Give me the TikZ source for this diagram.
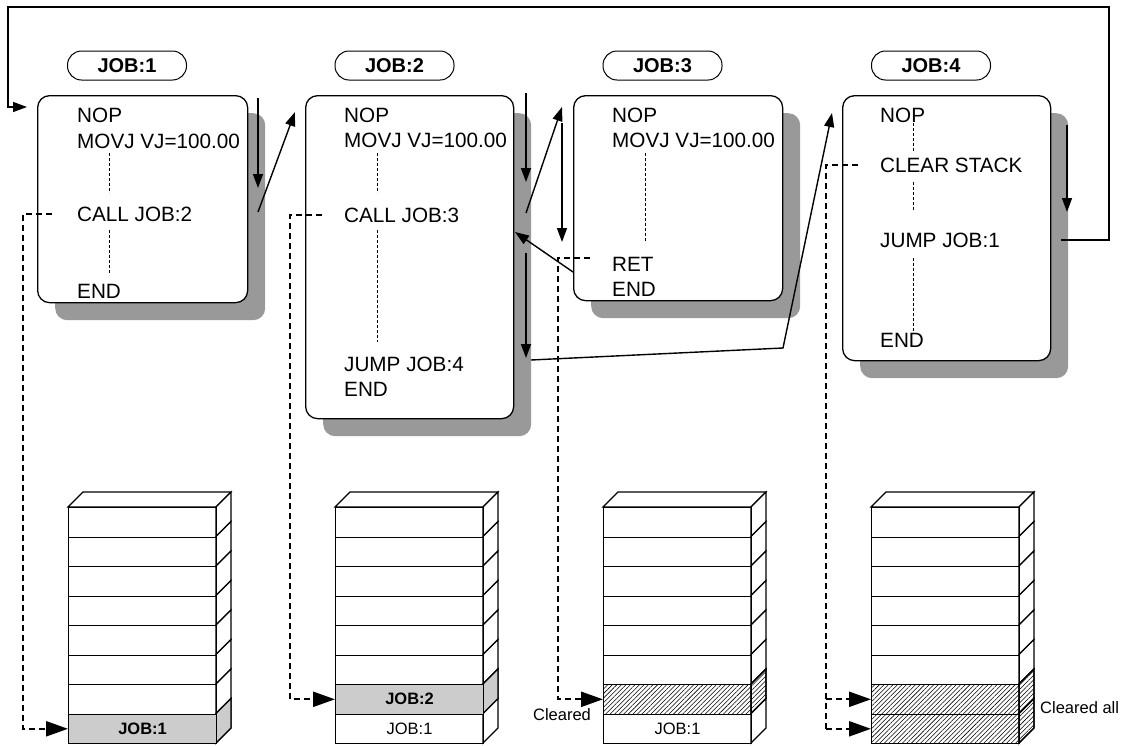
\documentclass[tikz,border=0pt]{standalone}
\usepackage{fontspec}
\setmainfont{Liberation Sans}
\usetikzlibrary{arrows.meta,patterns.meta,calc}
\begin{document}
\begin{tikzpicture}[x=1pt,y=-1pt,
  jobbox/.style={draw, line width=1.3pt, rounded corners=12pt, fill=white, anchor=north west, inner sep=0pt},
  shadowbox/.style={fill=black!40, rounded corners=12pt, anchor=north west, inner sep=0pt},
  pill/.style={draw, line width=1pt, rounded corners=14pt, minimum width=119pt, minimum height=29pt, inner sep=0pt, font=\fontsize{20}{24}\selectfont\bfseries},
  code/.style={anchor=west, inner sep=0pt, text height=15pt, text depth=0pt, font=\fontsize{20.7}{24}\selectfont},
  dotline/.style={dash pattern=on 3pt off 2pt, line width=1pt},
  flow/.style={line width=1.4pt, -{Triangle[length=14pt,width=10pt]}},
  stackarrow/.style={line width=2.3pt, dash pattern=on 6pt off 4pt, -{Triangle[length=22pt,width=15pt]}},
  stackline/.style={line width=2.3pt, dash pattern=on 6pt off 4pt},
  cell/.style={draw, line width=1.1pt, minimum width=148pt, minimum height=29.5pt, inner sep=0pt, anchor=north west, font=\fontsize{16.5}{18}\selectfont},
  hatch/.style={pattern={Lines[angle=45,distance=3.2pt,line width=0.55pt]}},
  note/.style={inner sep=0pt, font=\fontsize{16.5}{18}\selectfont}
]
\useasboundingbox (0,0) rectangle (1127,745);

% ---------- shadows ----------
\node[shadowbox, minimum width=210pt, minimum height=207pt] (J1s) at (55,113) {};
\node[shadowbox, minimum width=208pt, minimum height=323pt] (J2s) at (323,113) {};
\node[shadowbox, minimum width=209pt, minimum height=205pt] (J3s) at (591,113) {};
\node[shadowbox, minimum width=208pt, minimum height=265pt] (J4s) at (860,113) {};

% ---------- job boxes ----------
\node[jobbox, minimum width=210pt, minimum height=207pt] (J1) at (37,95) {};
\node[jobbox, minimum width=208pt, minimum height=323pt] (J2) at (305,95) {};
\node[jobbox, minimum width=209pt, minimum height=205pt] (J3) at (573,95) {};
\node[jobbox, minimum width=208pt, minimum height=265pt] (J4) at (842,95) {};

% ---------- labels ----------
\node[pill] (P1) at (127,65.5) {JOB:1};
\node[pill] (P2) at (394.5,65.5) {JOB:2};
\node[pill] (P3) at (662.5,65.5) {JOB:3};
\node[pill] (P4) at (931,65.5) {JOB:4};

% ---------- code text ----------
\node[code] (t1a) at (77,115) {NOP};
\node[code] (t1b) at (77,141) {MOVJ VJ=100.00};
\node[code] (t1c) at (77,214) {CALL JOB:2};
\node[code] (t1d) at (77,291) {END};

\node[code] (t2a) at (344,115) {NOP};
\node[code] (t2b) at (344,140) {MOVJ VJ=100.00};
\node[code] (t2c) at (344,215) {CALL JOB:3};
\node[code] (t2d) at (344,364) {JUMP JOB:4};
\node[code] (t2e) at (344,389) {END};

\node[code] (t3a) at (612,115) {NOP};
\node[code] (t3b) at (612,140) {MOVJ VJ=100.00};
\node[code] (t3c) at (612,264) {RET};
\node[code] (t3d) at (612,289) {END};

\node[code] (t4a) at (880,115) {NOP};
\node[code] (t4b) at (880,165) {CLEAR STACK};
\node[code] (t4c) at (880,240) {JUMP JOB:1};
\node[code] (t4d) at (880,340) {END};

% ---------- dotted continuation lines ----------
\draw[dotline] (109,153) -- (109,193);
\draw[dotline] (109,230) -- (109,275);
\draw[dotline] (377,153) -- (377,193);
\draw[dotline] (377,230) -- (377,342);
\draw[dotline] (645,153) -- (645,242);
\draw[dotline] (913,123) -- (913,152);
\draw[dotline] (913,182) -- (913,210);
\draw[dotline] (913,258) -- (913,333);

% ---------- flow arrows ----------
\coordinate (f1a) at (258,98);  \coordinate (f1b) at (258,188);
\coordinate (f1c) at (258,212); \coordinate (f1d) at (295,112);
\draw[flow] (f1a) -- (f1b);
\draw[flow] (f1c) -- (f1d);

\coordinate (f2a) at (526,93);  \coordinate (f2b) at (526,182);
\coordinate (f2c) at (526,213); \coordinate (f2d) at (562,107);
\coordinate (f2e) at (526,253); \coordinate (f2f) at (526,358);
\draw[flow] (f2a) -- (f2b);
\draw[flow] (f2c) -- (f2d);
\draw[flow] (f2e) -- (f2f);

\coordinate (f3a) at (562,123); \coordinate (f3b) at (562,242);
\draw[flow] (f3a) -- (f3b);
\coordinate (r3) at (573,272); \coordinate (r2) at (515,232);
\draw[flow] (r3) -- (r2);

\coordinate (j4a) at (531,360); \coordinate (j4b) at (783,348); \coordinate (j4c) at (832,113);
\draw[flow] (j4a) -- (j4b) -- (j4c);

\coordinate (f4a) at (1067,125); \coordinate (f4b) at (1067,212);
\draw[flow] (f4a) -- (f4b);

\coordinate (l1) at (1061,240); \coordinate (l2) at (1109,7);
\coordinate (l3) at (8,7); \coordinate (l4) at (8,107); \coordinate (l5) at (27,107);
\draw[flow] (l1) -| (l2) -- (l3) -- (l4) -- (l5);

% ---------- stacks ----------
\foreach \x in {68,335,603,871}{
  \draw[line width=1.1pt, fill=white] (\x,507) -- (\x+15,492) -- (\x+163,492) -- (\x+148,507) -- cycle;
  \foreach \i in {0,...,7}{
    \pgfmathsetmacro{\yt}{507+29.5*\i}
    \draw[line width=1.1pt, fill=white] (\x+148,\yt) -- (\x+163,\yt-15) -- (\x+163,\yt+14.5) -- (\x+148,\yt+29.5) -- cycle;
  }
}
% special side faces
\draw[line width=1.1pt, fill=black!20] (216,713.5) -- (231,698.5) -- (231,728) -- (216,743) -- cycle;
\draw[line width=1.1pt, fill=black!20] (483,684) -- (498,669) -- (498,698.5) -- (483,713.5) -- cycle;
\draw[line width=1.1pt, hatch] (751,684) -- (766,669) -- (766,698.5) -- (751,713.5) -- cycle;
\draw[line width=1.1pt, hatch] (1019,684) -- (1034,669) -- (1034,698.5) -- (1019,713.5) -- cycle;
\draw[line width=1.1pt, hatch] (1019,713.5) -- (1034,698.5) -- (1034,728) -- (1019,743) -- cycle;

% cells
\foreach \x/\n in {68/1,335/2,603/3,871/4}{
  \foreach \i in {0,...,5}{
    \node[cell] (s\n c\i) at (\x,{507+29.5*\i}) {};
  }
}
\node[cell] (s1c6) at (68,684) {};
\node[cell, fill=black!20, font=\fontsize{16.5}{18}\selectfont\bfseries] (s1c7) at (68,713.5) {JOB:1};
\node[cell, fill=black!20, font=\fontsize{16.5}{18}\selectfont\bfseries] (s2c6) at (335,684) {JOB:2};
\node[cell] (s2c7) at (335,713.5) {JOB:1};
\node[cell, hatch] (s3c6) at (603,684) {};
\node[cell] (s3c7) at (603,713.5) {JOB:1};
\node[cell, hatch] (s4c6) at (871,684) {};
\node[cell, hatch] (s4c7) at (871,713.5) {};

% ---------- stack pointers ----------
\coordinate (d1) at (23,214);
\draw[stackarrow] ($(t1c.west)+(-25,0)$) -- (d1) |- (s1c7.west);
\coordinate (d2) at (290,215);
\draw[stackarrow] ($(t2c.west)+(-22,0)$) -- (d2) |- (s2c6.west);
\coordinate (d3) at (558,258);
\draw[stackarrow] ($(t3c.west)+(-22,-6)$) -- (d3) |- (s3c6.west);
\coordinate (d4) at (826,165);
\draw[stackline] ($(t4b.west)+(-22,0)$) -- (d4) -- (d4 |- s4c7.west);
\draw[stackarrow] (d4 |- s4c6.west) -- (s4c6.west);
\draw[stackarrow] (d4 |- s4c7.west) -- (s4c7.west);

% ---------- notes ----------
\node[note] (n3) at (562,715) {Cleared};
\node[note, anchor=west] (n4) at (1040,708) {Cleared all};
\end{tikzpicture}
\end{document}
